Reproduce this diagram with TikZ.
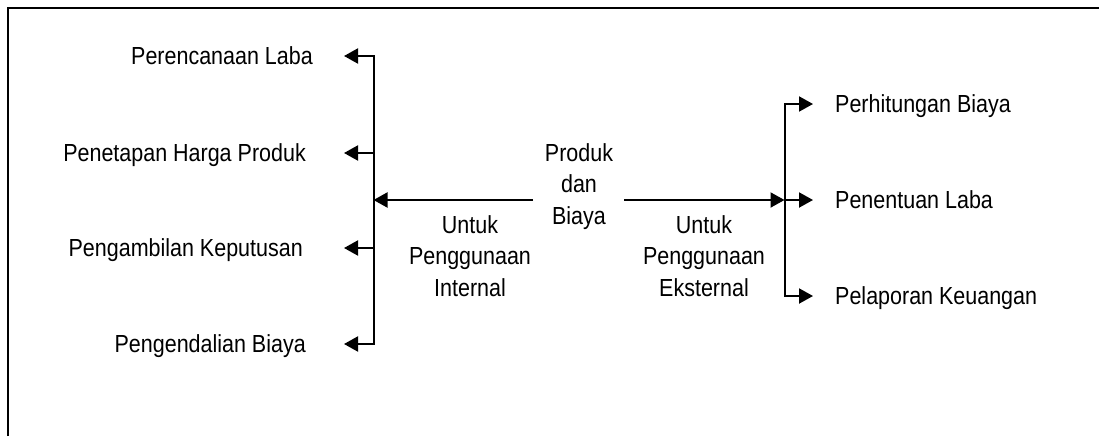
\documentclass[tikz,border=0pt]{standalone}
\usepackage{fontspec}
\setmainfont[FakeStretch=0.87]{Liberation Sans}
\usetikzlibrary{arrows.meta}
\begin{document}
\begin{tikzpicture}[x=1pt,y=-1pt,
  >={Triangle[length=14pt,width=15pt]},
  conn/.style={line width=2pt,line join=miter},
  arr/.style={conn,->},
  both/.style={conn,<->},
  lbl/.style={inner sep=0pt,font=\fontsize{24.7}{31.3}\selectfont},
  item/.style={lbl,text height=17.7pt,text depth=0pt},
  frame/.style={line width=2.6pt},
]
\useasboundingbox (0,0) rectangle (1099,436);

% open frame: top and left edges only
\draw[frame] (8,436) -- (8,8) -- (1099,8);

% central label and its two outgoing lines
\node[lbl,align=center] (pb) at (579,186.6) {Produk\\dan\\Biaya};
\coordinate (ls) at (533,200);
\coordinate (rs) at (624,200);
\coordinate (lbus) at (373.5,200);
\coordinate (rbus) at (784.5,200);

\node[lbl,align=center] (int) at (470,256) {Untuk\\Penggunaan\\Internal};
\node[lbl,align=center] (ext) at (704,256) {Untuk\\Penggunaan\\Eksternal};

% internal uses
\node[item,anchor=east] (l1) at (313,56)  {Perencanaan Laba};
\node[item,anchor=east] (l2) at (306,153) {Penetapan Harga Produk};
\node[item,anchor=east] (l3) at (303,248) {Pengambilan Keputusan};
\node[item,anchor=east] (l4) at (306,344) {Pengendalian Biaya};

% external uses
\node[item,anchor=west] (r1) at (835,104) {Perhitungan Biaya};
\node[item,anchor=west] (r2) at (835,200) {Penentuan Laba};
\node[item,anchor=west] (r3) at (835,296) {Pelaporan Keuangan};

% main flows
\draw[arr] (ls) -- (lbus);
\draw[arr] (rs) -- (rbus);

% left bus with branches (arrow tips end at x = 344)
\draw[both,shorten <=31pt,shorten >=38pt] (l1.east) -| (lbus |- l4) -- (l4.east);
\draw[arr,shorten >=38pt] (lbus |- l2) -- (l2.east);
\draw[arr,shorten >=41pt] (lbus |- l3) -- (l3.east);

% right bus with branches
\draw[both,shorten <=22pt,shorten >=22pt] (r1.west) -| (rbus |- r3) -- (r3.west);
\draw[arr,shorten >=22pt] (rbus) -- (r2.west);
\end{tikzpicture}
\end{document}
